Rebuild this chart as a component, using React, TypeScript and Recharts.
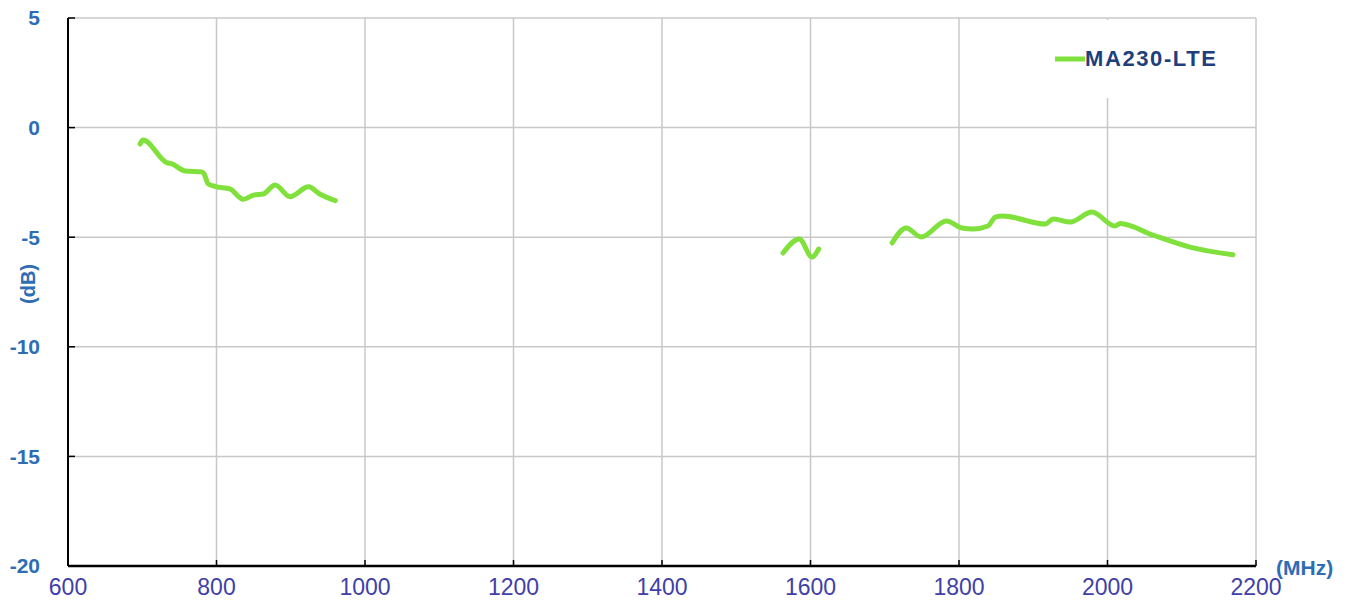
import { CartesianGrid, Legend, Line, LineChart, XAxis, YAxis } from 'recharts';

// frequency (MHz) and gain (dB); null breaks the line between bands
const freqs = [
  697, 701, 733, 740, 758, 780, 783, 789, 800, 818, 836, 850, 863, 879, 899, 924, 939, 960,
  1100,
  1563, 1585, 1602, 1611,
  1660,
  1710, 1729, 1749, 1783, 1804, 1819, 1839, 1849, 1859, 1916, 1927, 1950, 1979, 2010, 2017, 2061, 2111, 2169,
];
const gains: (number | null)[] = [
  -0.75, -0.57, -1.6, -1.66, -1.98, -2.02, -2.1, -2.57, -2.7, -2.8, -3.27, -3.08, -3.03, -2.62, -3.15, -2.7, -3.03, -3.33,
  null,
  -5.72, -5.08, -5.9, -5.54,
  null,
  -5.26, -4.58, -4.99, -4.26, -4.58, -4.63, -4.49, -4.08, -4.03, -4.4, -4.17, -4.31, -3.85, -4.49, -4.37, -4.9, -5.45, -5.8,
];
const xTicks = [600, 800, 1000, 1200, 1400, 1600, 1800, 2000, 2200];
const yTicks = [-20, -15, -10, -5, 0, 5];
const seriesName = 'MA230-LTE';

const data = freqs.map((f, i) => ({ f, gain: gains[i] }));

const GREEN = '#80e03c';
const FONT = '"Liberation Sans Narrow", "Liberation Sans", Arial, sans-serif';

function LegendBox() {
  return (
    <div style={{ display: 'flex', alignItems: 'center', height: '100%', paddingLeft: 15 }}>
      <svg width={30} height={8}>
        <line x1={0} y1={4} x2={30} y2={4} stroke={GREEN} strokeWidth={5} />
      </svg>
      <span
        style={{
          fontFamily: FONT,
          fontWeight: 700,
          fontSize: 22,
          color: '#1f3f7c',
          letterSpacing: 1.6,
        }}
      >
        {seriesName}
      </span>
    </div>
  );
}

export default function App() {
  return (
    <div style={{ position: 'absolute', left: 0, top: 0, background: '#fff' }}>
      <LineChart
        width={1355}
        height={608}
        data={data}
        margin={{ top: 18, right: 99, bottom: 12, left: 8 }}
      >
        <CartesianGrid stroke="#c8c8c8" strokeWidth={1.5} />
        <XAxis
          dataKey="f"
          type="number"
          domain={[600, 2200]}
          ticks={xTicks}
          height={30}
          tickSize={-6}
          tickMargin={19}
          axisLine={{ stroke: '#000', strokeWidth: 2.5 }}
          tickLine={{ stroke: '#000', strokeWidth: 1.5 }}
          tick={{ fill: '#4040a8', fontSize: 23, fontFamily: FONT }}
          label={{
            value: '(MHz)',
            position: 'right',
            offset: 20,
            dy: -13,
            fill: '#2e6db4',
            fontSize: 21,
            fontWeight: 700,
            fontFamily: FONT,
          }}
        />
        <YAxis
          type="number"
          domain={[-20, 5]}
          ticks={yTicks}
          width={60}
          tickSize={-7}
          tickMargin={35}
          axisLine={{ stroke: '#000', strokeWidth: 2 }}
          tickLine={{ stroke: '#000', strokeWidth: 1.5 }}
          tick={{ fill: '#2e6db4', fontSize: 21, fontWeight: 700, fontFamily: FONT }}
          label={{
            value: '(dB)',
            angle: -90,
            position: 'center',
            dx: -10,
            dy: -8,
            fill: '#2e6db4',
            fontSize: 20,
            fontWeight: 700,
            fontFamily: FONT,
          }}
        />
        <Legend
          layout="horizontal"
          verticalAlign="middle"
          align="center"
          content={() => <LegendBox />}
          wrapperStyle={{ top: 20, left: 1040, width: 210, height: 78, background: '#fff' }}
        />
        <Line
          dataKey="gain"
          name={seriesName}
          type="monotone"
          stroke={GREEN}
          strokeWidth={5}
          strokeLinejoin="round"
          strokeLinecap="round"
          dot={false}
          activeDot={false}
          connectNulls={false}
          isAnimationActive={false}
        />
      </LineChart>
    </div>
  );
}
